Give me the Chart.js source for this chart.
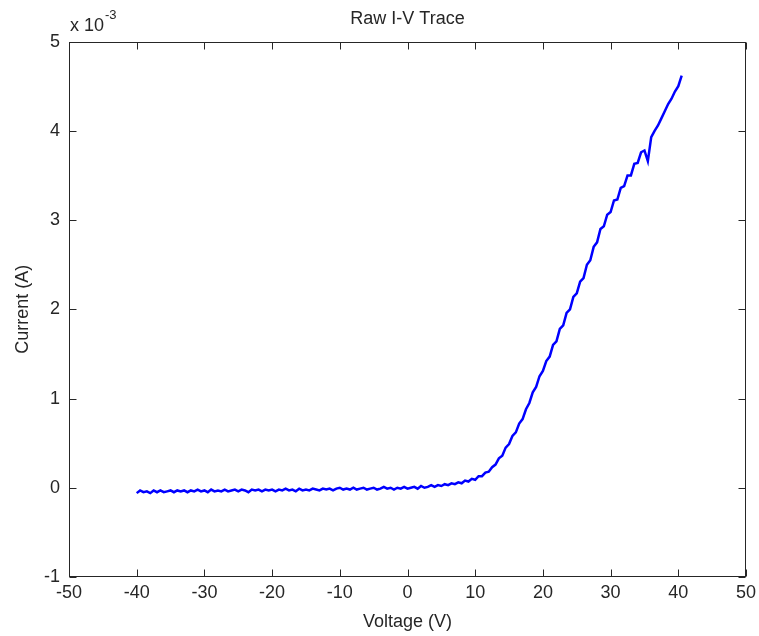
<!DOCTYPE html>
<html>
<head>
<meta charset="utf-8">
<title>Raw I-V Trace</title>
<script src="https://cdn.jsdelivr.net/npm/chart.js@4/dist/chart.umd.min.js"></script>
<style>
  html, body { margin: 0; padding: 0; background: #ffffff; }
  #wrap { width: 759px; height: 636px; }
</style>
</head>
<body>
<div id="wrap"><canvas id="ivChart" width="759" height="636"></canvas></div>
<script>
// Voltage sweep (V)
const voltage = [
  -40, -39.5, -39, -38.5, -38, -37.5, -37, -36.5, -36, -35.5,
  -35, -34.5, -34, -33.5, -33, -32.5, -32, -31.5, -31, -30.5,
  -30, -29.5, -29, -28.5, -28, -27.5, -27, -26.5, -26, -25.5,
  -25, -24.5, -24, -23.5, -23, -22.5, -22, -21.5, -21, -20.5,
  -20, -19.5, -19, -18.5, -18, -17.5, -17, -16.5, -16, -15.5,
  -15, -14.5, -14, -13.5, -13, -12.5, -12, -11.5, -11, -10.5,
  -10, -9.5, -9, -8.5, -8, -7.5, -7, -6.5, -6, -5.5,
  -5, -4.5, -4, -3.5, -3, -2.5, -2, -1.5, -1, -0.5,
  0, 0.5, 1, 1.5, 2, 2.5, 3, 3.5, 4, 4.5,
  5, 5.5, 6, 6.5, 7, 7.5, 8, 8.5, 9, 9.5,
  10, 10.5, 11, 11.5, 12, 12.5, 13, 13.5, 14, 14.5,
  15, 15.5, 16, 16.5, 17, 17.5, 18, 18.5, 19, 19.5,
  20, 20.5, 21, 21.5, 22, 22.5, 23, 23.5, 24, 24.5,
  25, 25.5, 26, 26.5, 27, 27.5, 28, 28.5, 29, 29.5,
  30, 30.5, 31, 31.5, 32, 32.5, 33, 33.5, 34, 34.5,
  35, 35.5, 36, 36.5, 37, 37.5, 38, 38.5, 39, 39.5,
  40, 40.5
];

const currentMilliamp = [
  -0.06, -0.03, -0.05, -0.04, -0.06, -0.03, -0.05, -0.03, -0.05, -0.04,
  -0.03, -0.05, -0.03, -0.04, -0.03, -0.05, -0.03, -0.04, -0.02, -0.04,
  -0.03, -0.05, -0.02, -0.04, -0.03, -0.04, -0.02, -0.04, -0.03, -0.02,
  -0.04, -0.02, -0.03, -0.05, -0.02, -0.03, -0.02, -0.04, -0.02, -0.03,
  -0.02, -0.04, -0.02, -0.03, -0.01, -0.03, -0.02, -0.04, -0.01, -0.03,
  -0.02, -0.03, -0.01, -0.02, -0.03, -0.01, -0.02, -0.01, -0.03, -0.01,
  0.0, -0.02, -0.01, -0.02, 0.0, -0.02, -0.01, 0.0, -0.02, -0.01,
  0.0, -0.02, -0.01, 0.01, -0.01, 0.0, -0.02, 0.0, -0.01, 0.01,
  -0.01, 0.0, 0.01, -0.01, 0.02, 0.0, 0.01, 0.03, 0.01, 0.03,
  0.02, 0.04, 0.03, 0.05, 0.04, 0.06, 0.05, 0.08, 0.07, 0.1,
  0.09, 0.13, 0.13, 0.17, 0.18, 0.23, 0.26, 0.33, 0.36, 0.45,
  0.49, 0.58, 0.62, 0.72, 0.77, 0.88, 0.95, 1.07, 1.13, 1.25,
  1.31, 1.42, 1.47, 1.6, 1.64, 1.78, 1.82, 1.96, 2.0, 2.14,
  2.18, 2.31, 2.35, 2.5, 2.55, 2.7, 2.75, 2.9, 2.93, 3.06,
  3.09, 3.22, 3.23, 3.36, 3.38, 3.5, 3.5, 3.63, 3.64, 3.76,
  3.78, 3.66, 3.93, 4.0, 4.06, 4.14, 4.22, 4.3, 4.36, 4.44,
  4.5, 4.62
];

// Axis ticks
const xTicks = [-50, -40, -30, -20, -10, 0, 10, 20, 30, 40, 50];
const yTicks = [-1, 0, 1, 2, 3, 4, 5];

const FONT = '"Liberation Sans", Arial, Helvetica, sans-serif';
const INK = '#262626';

// matlab style box: frame, inward ticks on all sides, exponent label
const matlabBox = {
  id: 'matlabBox',
  afterDraw(chart) {
    const { ctx, chartArea: a, scales: { x, y } } = chart;
    const len = 7;
    ctx.save();
    ctx.strokeStyle = INK;
    ctx.lineWidth = 1;
    const l = Math.round(a.left) + 0.5, r = Math.round(a.right) - 0.5;
    const t = Math.round(a.top) + 0.5, b = Math.round(a.bottom) - 0.5;
    ctx.strokeRect(l, t, r - l, b - t);
    ctx.beginPath();
    xTicks.forEach(v => {
      const px = Math.round(x.getPixelForValue(v)) + 0.5;
      ctx.moveTo(px, b); ctx.lineTo(px, b - len);
      ctx.moveTo(px, t); ctx.lineTo(px, t + len);
    });
    yTicks.forEach(v => {
      const py = Math.round(y.getPixelForValue(v)) + 0.5;
      ctx.moveTo(l, py); ctx.lineTo(l + len, py);
      ctx.moveTo(r, py); ctx.lineTo(r - len, py);
    });
    ctx.stroke();

    // "x 10^-3" multiplier above the y axis
    ctx.fillStyle = INK;
    ctx.textAlign = 'left';
    ctx.textBaseline = 'alphabetic';
    ctx.font = '18px ' + FONT;
    ctx.fillText('x 10', a.left + 1, 31);
    const w = ctx.measureText('x 10').width;
    ctx.font = '13px ' + FONT;
    ctx.fillText('-3', a.left + 1 + w + 1, 19);
    ctx.restore();
  }
};

new Chart(document.getElementById('ivChart'), {
  type: 'line',
  data: {
    datasets: [{
      label: 'I-V',
      data: voltage.map((v, i) => ({ x: v, y: currentMilliamp[i] })),
      borderColor: '#0000ff',
      borderWidth: 2.5,
      pointRadius: 0,
      tension: 0,
      fill: false
    }]
  },
  options: {
    responsive: false,
    animation: false,
    layout: { padding: { left: 0, right: 13, top: 0, bottom: 0 } },
    plugins: {
      legend: { display: false },
      tooltip: { enabled: false },
      title: {
        display: true,
        text: 'Raw I-V Trace',
        fullSize: false,
        color: INK,
        font: { family: FONT, size: 18, weight: 'normal' },
        padding: { top: 8, bottom: 12 }
      }
    },
    scales: {
      x: {
        type: 'linear',
        min: -50,
        max: 50,
        afterFit(scale) {
          scale.height = 59;
          scale.paddingLeft = 0;
          scale.paddingRight = 0;
        },
        grid: { display: false, drawTicks: false },
        border: { display: false },
        ticks: {
          stepSize: 10,
          padding: 5,
          color: INK,
          font: { family: FONT, size: 18 },
          maxRotation: 0
        },
        title: {
          display: true,
          text: 'Voltage (V)',
          color: INK,
          font: { family: FONT, size: 18 },
          padding: { top: 0, bottom: 3 }
        }
      },
      y: {
        type: 'linear',
        min: -1,
        max: 5,
        afterFit(scale) { scale.width = 69; },
        grid: { display: false, drawTicks: false },
        border: { display: false },
        ticks: {
          stepSize: 1,
          padding: 9,
          color: INK,
          font: { family: FONT, size: 18 }
        },
        title: {
          display: true,
          text: 'Current (A)',
          color: INK,
          font: { family: FONT, size: 18 },
          padding: { top: 12, bottom: 0 }
        }
      }
    }
  },
  plugins: [matlabBox]
});
</script>
</body>
</html>
